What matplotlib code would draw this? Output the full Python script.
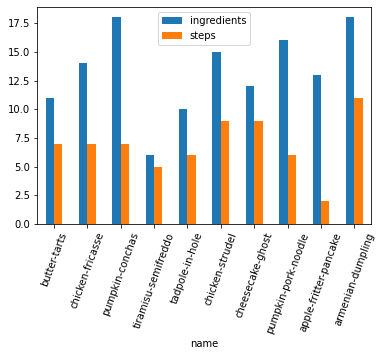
import pandas as pd
import matplotlib
matplotlib.use('Agg')
import matplotlib.pyplot as plt

names = ['butter-tarts', 'chicken-fricasse', 'pumpkin-conchas', 'tiramisu-semifreddo',
         'tadpole-in-hole', 'chicken-strudel', 'cheesecake-ghost', 'pumpkin-pork-noodle',
         'apple-fritter-pancake', 'armenian-dumpling']
ingredients = [11, 14, 18, 6, 10, 15, 12, 16, 13, 18]
steps = [7, 7, 7, 5, 6, 9, 9, 6, 2, 11]

df = pd.DataFrame({'name': names, 'ingredients': ingredients, 'steps': steps}).set_index('name')

fig = plt.figure(figsize=(383 / 72, 356 / 72), dpi=72)
ax = fig.add_axes([0.097, 0.371, 0.872, 0.609])
df.plot(kind='bar', ax=ax, rot=70)
ax.legend(loc='upper center')

plt.savefig('out.png', dpi=72)
